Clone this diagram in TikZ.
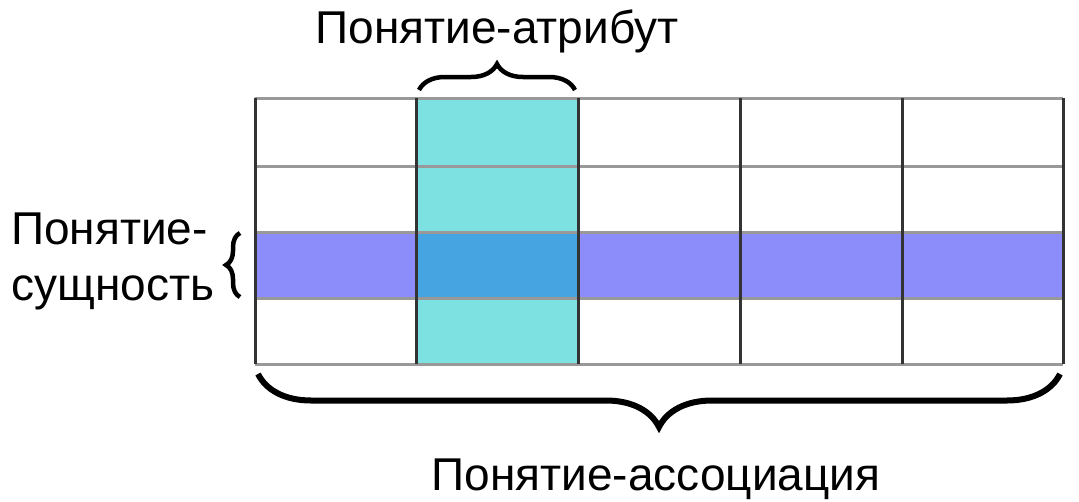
\documentclass[tikz,border=0pt]{standalone}
\usepackage{fontspec}
\setmainfont{Liberation Sans}
\usetikzlibrary{decorations.pathreplacing}
\definecolor{attrcol}{RGB}{125,225,225}
\definecolor{entcol}{RGB}{140,140,250}
\definecolor{bothcol}{RGB}{70,165,225}
\begin{document}
\begin{tikzpicture}[x=1pt,y=-1pt,
    lbl/.style={font=\fontsize{46}{56}\selectfont,inner sep=0pt,anchor=base},
    brc/.style={decorate,decoration={brace,amplitude=#1},line width=4.5pt}]
            \useasboundingbox (0,0) rectangle (1079,501);

            \fill[attrcol] (416,98) rectangle (578,364);
            \fill[entcol] (255,232) rectangle (1063,298);
            \fill[bothcol] (416,232) rectangle (578,298);

            \foreach \y in {98,166,232,298,364}{
              \draw[black!40,line width=3pt] (255,\y)--(1063,\y);
            }

            \foreach \x in {255,416,578,740,902,1063}{
              \draw[black!80,line width=3pt] (\x,98)--(\x,364);
            }

            \coordinate (a1) at (419,90);
            \coordinate (a2) at (575,90);
            \coordinate (e1) at (240,297);
            \coordinate (e2) at (240,233);
            \coordinate (s1) at (1060,374);
            \coordinate (s2) at (258,374);

            \draw[brc=26] (a1)--(a2);
            \draw[brc=14] (e1)--(e2);
            \draw[brc=53,line width=6pt] (s1)--(s2);

            \node[lbl] (attr) at (497,43) {Понятие-атрибут};
            \node[lbl,align=left,anchor=west] (ent) at (11,261) {Понятие-\\сущность};
            \node[lbl] (assoc) at (656,490) {Понятие-ассоциация};
        \end{tikzpicture}
\end{document}
